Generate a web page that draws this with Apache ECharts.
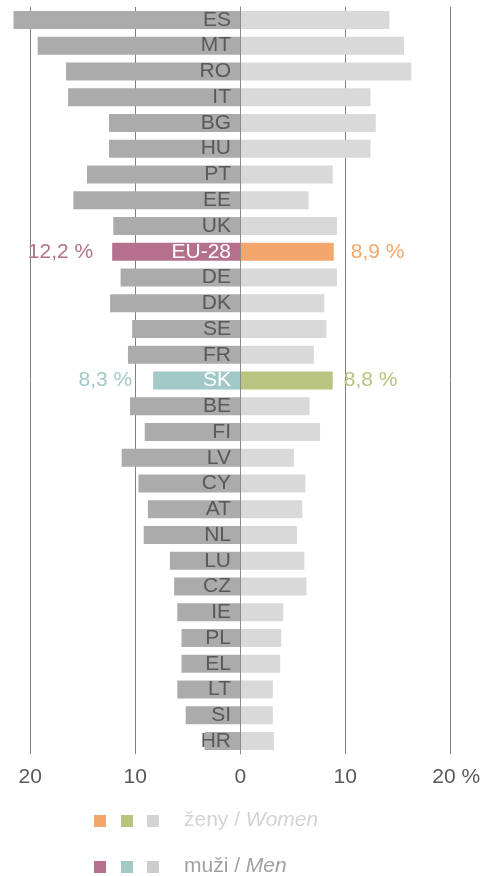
<!DOCTYPE html>
<html>
	<head>
		<meta charset="utf-8" />
		<title></title>
		<script type="text/javascript" src="https://cdn.jsdelivr.net/npm/echarts@6/dist/echarts.min.js"></script>
		<style>
			html, body { margin: 0; padding: 0; background: #fff; }
		</style>
	</head>
	<body>
		<div id="main" style="width:481px; height: 876px;"></div>
		<script>
			var categories = ['ES', 'MT', 'RO', 'IT', 'BG', 'HU', 'PT', 'EE', 'UK', 'EU-28', 'DE', 'DK', 'SE', 'FR', 'SK',
				'BE', 'FI', 'LV', 'CY', 'AT', 'NL', 'LU', 'CZ', 'IE', 'PL', 'EL', 'LT', 'SI', 'HR'];
			// muži / Men
			var menValues = [21.6, 19.3, 16.6, 16.4, 12.5, 12.5, 14.6, 15.9, 12.1, 12.2, 11.4, 12.4, 10.3, 10.7, 8.3,
				10.5, 9.1, 11.3, 9.7, 8.8, 9.2, 6.7, 6.3, 6.0, 5.6, 5.6, 6.0, 5.2, 3.4];
			// ženy / Women
			var womenValues = [14.2, 15.6, 16.3, 12.4, 12.9, 12.4, 8.8, 6.5, 9.2, 8.9, 9.2, 8.0, 8.2, 7.0, 8.8,
				6.6, 7.6, 5.1, 6.2, 5.9, 5.4, 6.1, 6.3, 4.1, 3.9, 3.8, 3.1, 3.1, 3.2];

			var font = '"Liberation Sans", Arial, sans-serif';
			var fs = 21;
			// farby pre EU-28 a SK
			var hl = {
				'EU-28': { men: '#b5708c', women: '#f4a76d', menDist: 19, womenDist: 17 },
				'SK': { men: '#a2c8c7', women: '#b8c47f', menDist: 21, womenDist: 11 }
			};

			function fmt(v) {
				return v.toFixed(1).replace('.', ',') + ' %';
			}

			var menData = [];
			var womenData = [];
			for (var i = 0; i < categories.length; i++) {
				var c = categories[i];
				var m = { value: -menValues[i] };
				var w = { value: womenValues[i] };
				if (hl[c]) {
					m.itemStyle = { color: hl[c].men };
					m.label = { show: true, position: 'left', distance: hl[c].menDist, color: hl[c].men,
						formatter: fmt(menValues[i]) };
					w.itemStyle = { color: hl[c].women };
					w.label = { show: true, position: 'right', distance: hl[c].womenDist, color: hl[c].women,
						formatter: fmt(womenValues[i]) };
				}
				menData.push(m);
				womenData.push(w);
			}

			var chartDom = document.getElementById('main');
			var myChart = echarts.init(chartDom);

			var option = {
				animation: false,
				textStyle: { fontFamily: font },
				grid: { left: 30.3, right: 30.7, top: 7, bottom: 122, containLabel: false, outerBoundsMode: 'none' },
				xAxis: {
					type: 'value',
					min: -20,
					max: 20,
					interval: 10,
					axisLine: { show: false },
					axisTick: { show: false },
					splitLine: { show: true, lineStyle: { color: '#7f7f7f', width: 1 } },
					axisLabel: {
						margin: 13,
						fontSize: fs,
						color: '#595959',
						fontFamily: font,
						formatter: function (v) {
							if (v === 20) return '{p|20 %}';
							return String(Math.abs(v));
						},
						rich: {
							p: { fontSize: fs, color: '#595959', fontFamily: font, padding: [0, 0, 0, 12] }
						}
					}
				},
				yAxis: {
					type: 'category',
					inverse: true,
					data: categories,
					z: 10,
					axisLine: { show: true, onZero: true, lineStyle: { color: '#8c8c8c', width: 1 } },
					axisTick: { show: false },
					splitLine: { show: false },
					axisLabel: {
						interval: 0,
						margin: -200.7,
						fontSize: fs,
						color: '#595959',
						fontFamily: font,
						formatter: function (v) {
							if (hl[v]) return '{w|' + v + '}';
							return v;
						},
						rich: {
							w: { fontSize: fs, color: '#ffffff', fontFamily: font }
						}
					}
				},
				series: [
					{
						name: 'muži / Men',
						type: 'bar',
						barWidth: 18,
						barGap: '-100%',
						clip: false,
						itemStyle: { color: '#ababab' },
						label: { fontSize: fs, fontFamily: font },
						data: menData
					},
					{
						name: 'ženy / Women',
						type: 'bar',
						barWidth: 18,
						barGap: '-100%',
						itemStyle: { color: '#d9d9d9' },
						label: { fontSize: fs, fontFamily: font },
						data: womenData
					}
				],
				graphic: [
					{ type: 'rect', left: 94, top: 815, shape: { width: 12, height: 12 }, style: { fill: '#f4a76d' } },
					{ type: 'rect', left: 121, top: 815, shape: { width: 12, height: 12 }, style: { fill: '#b8c47f' } },
					{ type: 'rect', left: 147, top: 815, shape: { width: 12, height: 12 }, style: { fill: '#d4d4d4' } },
					{
						type: 'text', left: 184, top: 810,
						style: {
							text: 'ženy / {i|Women}', fill: '#d3d3d3', fontSize: fs, fontFamily: font,
							rich: { i: { fontStyle: 'italic', fill: '#d3d3d3', fontSize: fs, fontFamily: font } }
						}
					},
					{ type: 'rect', left: 94, top: 861, shape: { width: 12, height: 12 }, style: { fill: '#b5708c' } },
					{ type: 'rect', left: 121, top: 861, shape: { width: 12, height: 12 }, style: { fill: '#a2c8c7' } },
					{ type: 'rect', left: 147, top: 861, shape: { width: 12, height: 12 }, style: { fill: '#cccccc' } },
					{
						type: 'text', left: 184, top: 856,
						style: {
							text: 'muži / {i|Men}', fill: '#a0a0a0', fontSize: fs, fontFamily: font,
							rich: { i: { fontStyle: 'italic', fill: '#a0a0a0', fontSize: fs, fontFamily: font } }
						}
					}
				]
			};
			myChart.setOption(option);
		</script>
	</body>
</html>
